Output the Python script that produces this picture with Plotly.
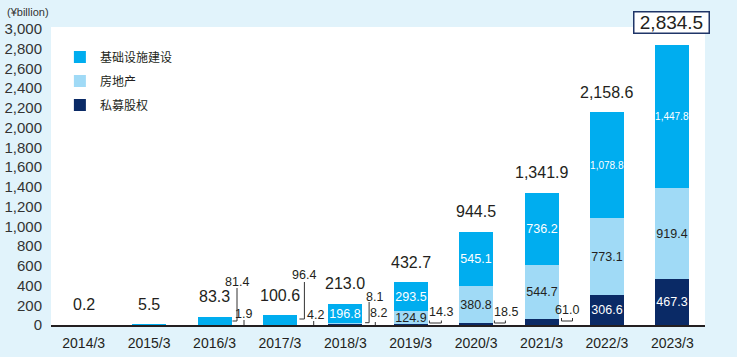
import plotly.graph_objects as go

# ---------------- data ----------------
categories = ["2014/3", "2015/3", "2016/3", "2017/3", "2018/3",
              "2019/3", "2020/3", "2021/3", "2022/3", "2023/3"]
infrastructure = [0.2, 5.5, 81.4, 96.4, 196.8, 293.5, 545.1, 736.2, 1078.8, 1447.8]
real_estate = [0, 0, 0, 0, 8.1, 124.9, 380.8, 544.7, 773.1, 919.4]
private_equity = [0, 0, 1.9, 4.2, 8.2, 14.3, 18.5, 61.0, 306.6, 467.3]
totals = [0.2, 5.5, 83.3, 100.6, 213.0, 432.7, 944.5, 1341.9, 2158.6, 2834.5]
series_names = ["基础设施建设", "房地产", "私募股权"]
y_tick_values = list(range(0, 3001, 200))
unit_label = "(¥billion)"

# ---------------- styles ----------------
# (alpha 0.999 so sub-pixel bars are rounded, not expanded to a visible pixel)
BLUE = "rgba(0,173,239,0.999)"
LIGHT = "rgba(160,218,246,0.999)"
NAVY = "rgba(10,42,102,0.999)"
BG = "#e1f3fb"
INK = "#231f20"
SANS = "Liberation Sans, Arial, sans-serif"
CJK = "Noto Sans CJK SC, sans-serif"

# callout placement (pixel offsets from category centre / baseline), keyed by (category index, series)
callout_style = {
    (2, "infra"): dict(text=(22, 43), path="M 22.5,37 L 22.5,4 L 18,4"),
    (2, "pe"): dict(text=(29, 11), path="M 29.5,5 L 29.5,0"),
    (3, "infra"): dict(text=(24.5, 50), path="M 24.5,43 L 24.5,6 L 19.5,6"),
    (3, "pe"): dict(text=(35.5, 10), path="M 33.8,4 L 33.8,0"),
    (4, "re"): dict(text=(28.8, 28), path="M 23.8,23 L 23.8,2.3 L 19.8,2.3"),
    (4, "pe"): dict(text=(33, 12), path="M 30,3 L 30,0"),
    (5, "pe"): dict(text=(30, 13), path="M 18.7,4.5 L 18.7,2 L 30.7,2 L 30.7,4.5"),
    (6, "pe"): dict(text=(30, 13), path="M 18.3,4.5 L 18.3,2 L 29.3,2 L 29.3,4.5"),
    (7, "pe"): dict(text=(25, 15), path="M 20,7 L 20,4 L 31,4 L 31,7"),
}

x_idx = list(range(len(categories)))
series = [("pe", private_equity, NAVY, "white", series_names[2], 3),
          ("re", real_estate, LIGHT, INK, series_names[1], 2),
          ("infra", infrastructure, BLUE, "white", series_names[0], 1)]

fig = go.Figure()
for key, vals, color, tcolor, name, rank in series:
    texts, sizes = [], []
    for v in vals:
        texts.append(f"{v:,.1f}" if v >= 100 else "")
        sizes.append(10 if v >= 1000 else 12.5)
    fig.add_trace(go.Bar(
        x=x_idx, y=vals, name=name, legendgroup=key, legendrank=rank,
        marker=dict(color=color, line=dict(width=0)),
        width=0.52,
        text=texts, textposition="inside", insidetextanchor="middle",
        textangle=0, constraintext="none",
        textfont=dict(family=SANS, size=sizes, color=tcolor),
        hoverinfo="skip",
    ))

annotations = []
shapes = []

# totals
for i, t in enumerate(totals):
    last = i == len(totals) - 1
    ann = dict(x=i, y=t, xref="x", yref="y", text=f"{t:,.1f}", showarrow=False,
               yanchor="middle", xanchor="center", yshift=23 if last else 20,
               font=dict(family=SANS, size=19 if last else 16, color=INK))
    if last:
        ann.update(bordercolor="#1f3568", borderwidth=1.5, borderpad=0,
                   bgcolor="white", width=74, height=20, xshift=-1)
    annotations.append(ann)

# callouts for small segments
for key, vals, color, tcolor, name, rank in series:
    for i, v in enumerate(vals):
        st = callout_style.get((i, key))
        if st is None:
            continue
        dx, dy = st["text"]
        annotations.append(dict(x=i, y=0, xref="x", yref="y", text=f"{v:,.1f}",
                                showarrow=False, xshift=dx, yshift=dy,
                                xanchor="center", yanchor="middle",
                                font=dict(family=SANS, size=12.5, color=INK)))
        shapes.append(dict(type="path", xref="x", yref="y",
                           xsizemode="pixel", ysizemode="pixel",
                           xanchor=i, yanchor=0, path=st["path"],
                           line=dict(color="#333333", width=1)))

annotations.append(dict(x=0, y=1, xref="paper", yref="paper", xshift=-46, yshift=15,
                        text=unit_label, showarrow=False, xanchor="left",
                        yanchor="middle",
                        font=dict(family=SANS, size=11, color="#333333")))

fig.update_layout(
    width=737, height=357,
    margin=dict(l=51, r=32, t=27, b=32, pad=0),
    paper_bgcolor=BG, plot_bgcolor="white",
    barmode="stack", bargap=0,
    showlegend=True,
    legend=dict(x=0.0136, y=0.948, xanchor="left", yanchor="top",
                traceorder="grouped", tracegroupgap=5,
                bgcolor="rgba(0,0,0,0)",
                font=dict(family=CJK, size=12, color=INK)),
    xaxis=dict(range=[-0.5, len(categories) - 0.5], tickvals=x_idx,
               ticktext=categories, showgrid=False, zeroline=False,
               showline=True, linecolor=INK, linewidth=2, ticks="",
               ticklabelstandoff=4, automargin=False,
               tickfont=dict(family=SANS, size=14, color=INK), fixedrange=True),
    yaxis=dict(range=[0, 3020], tickvals=y_tick_values, tickformat=",",
               showgrid=False, zeroline=False, showline=False, ticks="",
               ticklabelstandoff=8, automargin=False,
               tickfont=dict(family=SANS, size=15, color="#333333"), fixedrange=True),
    annotations=annotations,
    shapes=shapes,
)

fig.write_html("out.html", config={"displayModeBar": False},
               post_script="document.body.style.margin='0';")
